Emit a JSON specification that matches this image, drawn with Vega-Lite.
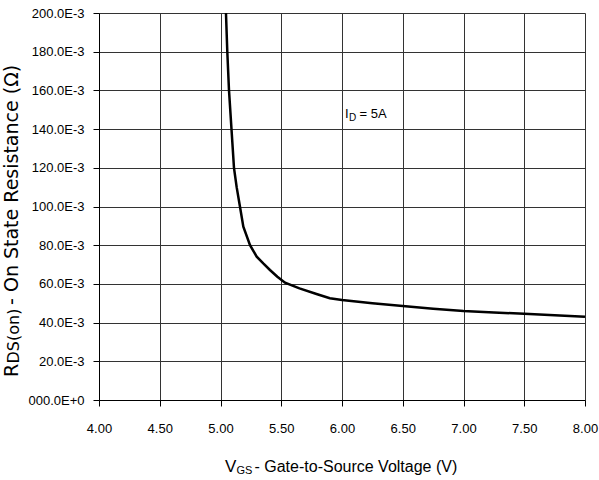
{
  "$schema": "https://vega.github.io/schema/vega-lite/v6.json",
  "width": 486,
  "height": 387,
  "autosize": "none",
  "padding": {"left": 99, "top": 13, "right": 14, "bottom": 80},
  "background": "white",
  "config": {"view": {"stroke": null}, "font": "Liberation Sans"},
  "resolve": {"axis": {"x": "independent", "y": "independent"}},
  "layer": [
    {
      "data": {
        "values": [
          {"vgs": 5.045, "rds": 0.2},
          {"vgs": 5.056, "rds": 0.18},
          {"vgs": 5.07, "rds": 0.16},
          {"vgs": 5.091, "rds": 0.1395},
          {"vgs": 5.111, "rds": 0.12},
          {"vgs": 5.133, "rds": 0.11},
          {"vgs": 5.16, "rds": 0.1},
          {"vgs": 5.188, "rds": 0.0896},
          {"vgs": 5.243, "rds": 0.08},
          {"vgs": 5.298, "rds": 0.0741},
          {"vgs": 5.352, "rds": 0.0706},
          {"vgs": 5.407, "rds": 0.0672},
          {"vgs": 5.468, "rds": 0.0637},
          {"vgs": 5.531, "rds": 0.0606},
          {"vgs": 5.65, "rds": 0.0577},
          {"vgs": 5.79, "rds": 0.0548},
          {"vgs": 5.9, "rds": 0.0526},
          {"vgs": 6.0, "rds": 0.0517},
          {"vgs": 6.25, "rds": 0.05},
          {"vgs": 6.5, "rds": 0.0486},
          {"vgs": 6.75, "rds": 0.0472},
          {"vgs": 7.0, "rds": 0.046},
          {"vgs": 7.25, "rds": 0.0452},
          {"vgs": 7.5, "rds": 0.0446},
          {"vgs": 7.75, "rds": 0.0438},
          {"vgs": 8.0, "rds": 0.043}
        ]
      },
      "mark": {"type": "line", "color": "black", "strokeWidth": 2.5},
      "encoding": {
        "x": {
          "field": "vgs",
          "type": "quantitative",
          "scale": {"domain": [4, 8], "nice": false, "zero": false},
          "axis": {
            "title": null,
            "values": [4, 4.5, 5, 5.5, 6, 6.5, 7, 7.5, 8],
            "format": ".2f",
            "grid": true,
            "gridColor": "#333333",
            "gridOpacity": 1,
            "gridWidth": 1,
            "domainColor": "black",
            "tickColor": "black",
            "tickSize": 6,
            "labelFont": "Liberation Sans",
            "labelFontSize": 13,
            "labelColor": "black",
            "labelPadding": 16,
            "labelOverlap": false,
            "labelFlush": false
          }
        },
        "y": {
          "field": "rds",
          "type": "quantitative",
          "scale": {"domain": [0, 0.2], "nice": false},
          "axis": {
            "title": null,
            "values": [0, 0.02, 0.04, 0.06, 0.08, 0.1, 0.12, 0.14, 0.16, 0.18, 0.2],
            "labelExpr": "datum.value < 0.001 ? '000.0E+0' : format(datum.value * 1000, '.1f') + 'E-3'",
            "grid": true,
            "gridColor": "#333333",
            "gridOpacity": 1,
            "gridWidth": 1,
            "domainColor": "black",
            "tickColor": "black",
            "tickSize": 6,
            "labelFont": "Liberation Sans",
            "labelFontSize": 13,
            "labelColor": "black",
            "labelPadding": 9,
            "labelOverlap": false,
            "labelFlush": false
          }
        }
      }
    },
    {
      "data": {"values": [{}]},
      "mark": {"type": "text", "text": "I", "fontSize": 13, "align": "left", "baseline": "alphabetic", "color": "black"},
      "encoding": {"x": {"datum": 6.0247, "type": "quantitative", "axis": null}, "y": {"datum": 0.14558, "type": "quantitative", "axis": null}}
    },
    {
      "data": {"values": [{}]},
      "mark": {"type": "text", "text": "D", "fontSize": 10, "align": "left", "baseline": "alphabetic", "dx": 4, "dy": 2.5, "color": "black"},
      "encoding": {"x": {"datum": 6.0247, "type": "quantitative", "axis": null}, "y": {"datum": 0.14558, "type": "quantitative", "axis": null}}
    },
    {
      "data": {"values": [{}]},
      "mark": {"type": "text", "text": "= 5A", "fontSize": 13, "align": "left", "baseline": "alphabetic", "dx": 14.5, "color": "black"},
      "encoding": {"x": {"datum": 6.0247, "type": "quantitative", "axis": null}, "y": {"datum": 0.14558, "type": "quantitative", "axis": null}}
    },
    {
      "data": {"values": [{}]},
      "mark": {"type": "text", "text": "V", "fontSize": 17, "align": "left", "baseline": "alphabetic", "color": "black"},
      "encoding": {"x": {"datum": 5.037, "type": "quantitative", "axis": null}, "y": {"datum": -0.03706, "type": "quantitative", "axis": null}}
    },
    {
      "data": {"values": [{}]},
      "mark": {"type": "text", "text": "GS", "fontSize": 11, "align": "left", "baseline": "alphabetic", "dx": 11.5, "dy": 2.5, "color": "black"},
      "encoding": {"x": {"datum": 5.037, "type": "quantitative", "axis": null}, "y": {"datum": -0.03706, "type": "quantitative", "axis": null}}
    },
    {
      "data": {"values": [{}]},
      "mark": {"type": "text", "text": " - Gate-to-Source Voltage (V)", "fontSize": 16, "align": "left", "baseline": "alphabetic", "dx": 29.5, "color": "black"},
      "encoding": {"x": {"datum": 5.037, "type": "quantitative", "axis": null}, "y": {"datum": -0.03706, "type": "quantitative", "axis": null}}
    },
    {
      "data": {"values": [{}]},
      "mark": {"type": "text", "text": "R", "font": "DejaVu Sans", "fontSize": 19, "angle": 270, "align": "left", "baseline": "alphabetic", "color": "black"},
      "encoding": {"x": {"datum": 3.3333, "type": "quantitative", "axis": null}, "y": {"datum": 0.0119, "type": "quantitative", "axis": null}}
    },
    {
      "data": {"values": [{}]},
      "mark": {"type": "text", "text": "DS(on)", "font": "DejaVu Sans", "fontSize": 16, "angle": 270, "align": "left", "baseline": "alphabetic", "dx": 13.5, "dy": 1, "color": "black"},
      "encoding": {"x": {"datum": 3.3333, "type": "quantitative", "axis": null}, "y": {"datum": 0.0119, "type": "quantitative", "axis": null}}
    },
    {
      "data": {"values": [{}]},
      "mark": {"type": "text", "text": " - On State Resistance (Ω)", "font": "DejaVu Sans", "fontSize": 19, "angle": 270, "align": "left", "baseline": "alphabetic", "dx": 72, "color": "black"},
      "encoding": {"x": {"datum": 3.3333, "type": "quantitative", "axis": null}, "y": {"datum": 0.0119, "type": "quantitative", "axis": null}}
    }
  ]
}
